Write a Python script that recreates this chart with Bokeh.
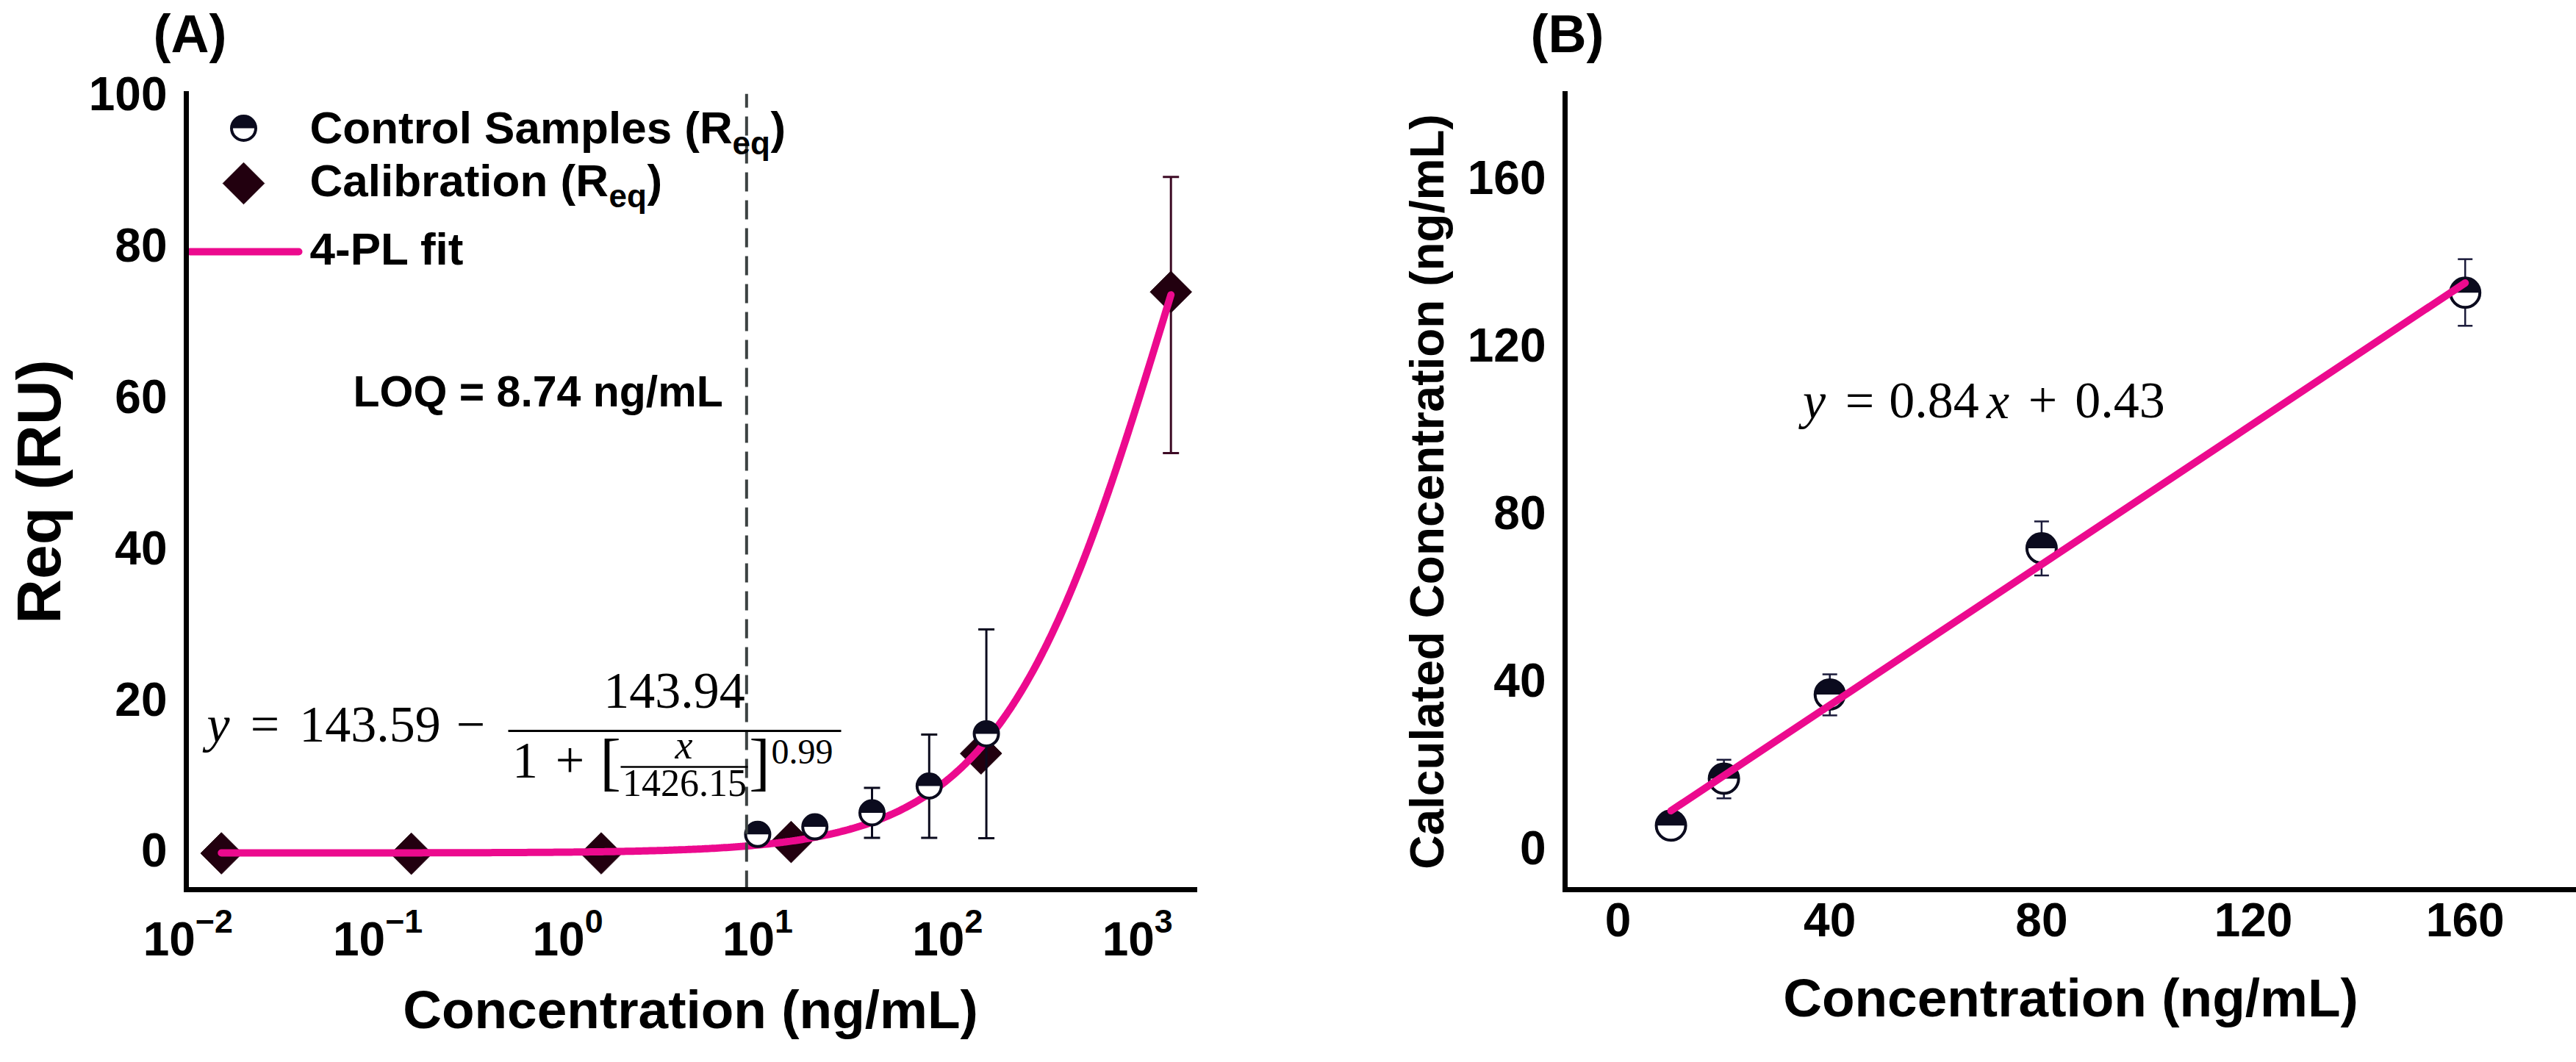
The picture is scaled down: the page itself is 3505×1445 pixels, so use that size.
import numpy as np
from bokeh.plotting import figure
from bokeh.layouts import row, column
from bokeh.models import Range1d, FixedTicker, Label
from bokeh.embed import file_html
from bokeh.resources import INLINE

# ---------------- data ----------------
# (A) calibration standards and control samples, equilibrium response (RU)
calib_conc = [0.015, 0.15, 1.5, 15, 150, 1500]
calib_req = [-0.4, -0.45, -0.4, 1.1, 12.8, 73.8]
calib_lo = [None, None, None, None, None, 52.5]
calib_hi = [None, None, None, None, None, 89.0]

ctrl_conc = [10, 20, 40, 80, 160]
ctrl_req = [2.1, 3.1, 4.95, 8.5, 15.4]
ctrl_lo = [1.7, 2.6, 1.65, 1.65, 1.6]
ctrl_hi = [2.5, 3.6, 8.25, 15.3, 29.2]

# 4-PL fit: y = top - span / (1 + (x / ec50) ** hill)
fit_top, fit_span, fit_ec50, fit_hill = 143.59, 143.94, 1426.15, 0.99
loq = 8.74

# (B) back-calculated concentration of the control samples
nominal_conc = [10, 20, 40, 80, 160]
calc_conc = [5.3, 16.5, 36.6, 71.5, 132.5]
calc_lo = [4.1, 11.8, 31.6, 65.0, 124.6]
calc_hi = [6.5, 21.0, 41.4, 77.9, 140.5]
lin_slope, lin_icpt = 0.84, 0.43

x_ticks_a = [0.01, 0.1, 1, 10, 100, 1000]
y_ticks_a = [0, 20, 40, 60, 80, 100]
ticks_b = [0, 40, 80, 120, 160]
panel_tags = ["(A)", "(B)"]

# ---------------- styling ----------------
PINK = "#EC0A8E"
NAVY = "#0b0b1e"
MAROON = "#22000f"
MAROON_BAR = "#3d0a24"
SANS = "Liberation Sans"
SERIF = "Liberation Serif"

W, H = 3505, 1445
HEAD = 90                                          # strip above the panels for the tags
A_W, B_W = 1780, 1725
A_L, A_R, A_T, A_B = 253, 1625, 127, 1210          # frame edges, panel A (page px)
B_L, B_R, B_T, B_B = 2129, 3505, 126, 1210         # frame edges, panel B (page px)
AX0, AX1 = 0.0098, 2000
AY0, AY1 = -5.2, 100
BX0, BX1 = -10, 181
BY0, BY1 = -10, 180


def ax(sx):
    l0, l1 = np.log10(AX0), np.log10(AX1)
    return 10 ** (l0 + (sx - A_L) / (A_R - A_L) * (l1 - l0))


def ay(sy):
    return AY1 - (sy - A_T) / (A_B - A_T) * (AY1 - AY0)


def bx(sx):
    return BX0 + (sx - B_L) / (B_R - B_L) * (BX1 - BX0)


def by(sy):
    return BY1 - (sy - B_T) / (B_B - B_T) * (BY1 - BY0)


def put(p, fx, fy, sx, sy, text, size, font=SANS, style="bold", align="left"):
    # sy is the wanted baseline; labels sit a little low, so lift them
    p.add_layout(Label(x=fx(sx), y=fy(sy - 0.4 * size), text=text, text_font=font,
                       text_font_size=f"{size}px", text_font_style=style,
                       text_align=align, text_baseline="alphabetic", text_color="black"))


def style_axes(p):
    p.outline_line_color = None
    p.xgrid.visible = False
    p.ygrid.visible = False
    p.background_fill_color = "white"
    for a in p.axis:
        a.axis_line_width = 7
        a.axis_line_color = "black"
        a.axis_line_cap = "square"
        a.major_tick_line_color = None
        a.minor_tick_line_color = None
        a.major_tick_out = 0
        a.major_tick_in = 0
        a.minor_tick_out = 0
        a.major_label_text_font = SANS
        a.major_label_text_font_style = "bold"
        a.major_label_text_font_size = "64px"
        a.major_label_text_color = "black"
        a.axis_label_text_font = SANS
        a.axis_label_text_font_style = "bold"
        a.axis_label_text_font_size = "73px"
        a.axis_label_text_color = "black"


def half_markers(p, xs, ys, size, dark, lw=4):
    p.scatter(xs, ys, size=size, marker="circle", fill_color="white", line_color=None)
    p.wedge(xs, ys, radius=size / 2, radius_units="screen", start_angle=0, end_angle=np.pi,
            fill_color=dark, line_color=None)
    p.scatter(xs, ys, size=size, marker="circle", fill_color=None, line_color=dark, line_width=lw)


def error_bars(p, xs, lows, highs, color, lw, cap):
    pts = [(x, lo, hi) for x, lo, hi in zip(xs, lows, highs) if lo is not None]
    x = [q[0] for q in pts]
    lo = [q[1] for q in pts]
    hi = [q[2] for q in pts]
    p.segment(x, lo, x, hi, line_color=color, line_width=lw)
    p.scatter(x + x, lo + hi, marker="dash", size=cap, line_color=color, line_width=lw)


# ---------------- header strip with panel tags ----------------
head = figure(width=W, height=HEAD, x_range=Range1d(0, W), y_range=Range1d(HEAD, 0),
              output_backend="svg", toolbar_location=None,
              x_axis_location=None, y_axis_location=None,
              min_border_left=0, min_border_right=0, min_border_top=0, min_border_bottom=0)
head.outline_line_color = None
head.xgrid.visible = False
head.ygrid.visible = False
TAG_SIZE = 72
for tag, cx in zip(panel_tags, [258, 2132]):
    head.add_layout(Label(x=cx, y=HEAD / 2, text=tag, text_font=SANS,
                          text_font_size=f"{TAG_SIZE}px", text_font_style="bold",
                          text_align="center", text_baseline="middle", text_color="black"))

# ---------------- panel A ----------------
pA = figure(width=A_W, height=H - HEAD, x_axis_type="log",
            x_range=Range1d(AX0, AX1), y_range=Range1d(AY0, AY1),
            output_backend="svg", toolbar_location=None,
            min_border_left=A_L, min_border_right=A_W - A_R,
            min_border_top=A_T - HEAD, min_border_bottom=H - A_B)
style_axes(pA)
pA.xaxis.ticker = FixedTicker(ticks=x_ticks_a)
pA.yaxis.ticker = FixedTicker(ticks=y_ticks_a)
pA.xaxis.axis_label = "Concentration (ng/mL)"
pA.yaxis.axis_label = "Req (RU)"
pA.yaxis.axis_label_text_font_size = "84px"
pA.xaxis.major_label_standoff = 24
pA.yaxis.major_label_standoff = 26
pA.xaxis.axis_label_standoff = 30
pA.yaxis.axis_label_standoff = 18

error_bars(pA, calib_conc, calib_lo, calib_hi, MAROON_BAR, 3, 22)
pA.scatter(calib_conc, calib_req, marker="square", angle=np.pi / 4, size=40,
           fill_color=MAROON, line_color=MAROON)

xs_fit = np.logspace(np.log10(calib_conc[0]), np.log10(calib_conc[-1]), 400)
ys_fit = fit_top - fit_span / (1 + (xs_fit / fit_ec50) ** fit_hill)
pA.line(xs_fit, ys_fit, line_color=PINK, line_width=10, line_cap="round")

error_bars(pA, ctrl_conc, ctrl_lo, ctrl_hi, NAVY, 3, 22)
half_markers(pA, ctrl_conc, ctrl_req, 33, NAVY)

# limit of quantification
pA.segment([loq], [AY0], [loq], [AY1], line_color="#3c4242", line_width=4, line_dash="26 12")
put(pA, ax, ay, 480, 556, f"LOQ = {loq} ng/mL", 59)

# legend
half_markers(pA, [ax(331)], [ay(174)], 33, NAVY)
pA.scatter([ax(331)], [ay(249)], marker="square", angle=np.pi / 4, size=40,
           fill_color=MAROON, line_color=MAROON)
pA.line([ax(258), ax(406)], [ay(342), ay(342)], line_color=PINK, line_width=10, line_cap="round")
put(pA, ax, ay, 421, 198, "Control Samples (R", 62)
put(pA, ax, ay, 996, 212, "eq", 44)
put(pA, ax, ay, 1048, 198, ")", 62)
put(pA, ax, ay, 421, 270, "Calibration (R", 62)
put(pA, ax, ay, 828, 284, "eq", 44)
put(pA, ax, ay, 880, 270, ")", 62)
put(pA, ax, ay, 421, 363, "4-PL fit", 62)

# fitted equation
put(pA, ax, ay, 281, 1013, "y", 70, SERIF, "italic")
put(pA, ax, ay, 360, 1013, "=", 70, SERIF, "normal", "center")
put(pA, ax, ay, 503, 1013, f"{fit_top:.2f}", 70, SERIF, "normal", "center")
put(pA, ax, ay, 640, 1013, "\u2212", 70, SERIF, "normal", "center")
put(pA, ax, ay, 917, 967, f"{fit_span:.2f}", 70, SERIF, "normal", "center")
pA.segment([ax(691)], [ay(994)], [ax(1144)], [ay(994)], line_color="black", line_width=3)
put(pA, ax, ay, 714, 1062, "1", 70, SERIF, "normal", "center")
put(pA, ax, ay, 775, 1062, "+", 70, SERIF, "normal", "center")
put(pA, ax, ay, 830, 1070, "[", 86, SERIF, "normal", "center")
put(pA, ax, ay, 930, 1035, "x", 54, SERIF, "italic", "center")
pA.segment([ax(844)], [ay(1043)], [ax(1017)], [ay(1043)], line_color="black", line_width=2.5)
put(pA, ax, ay, 931, 1086, f"{fit_ec50:.2f}", 52, SERIF, "normal", "center")
put(pA, ax, ay, 1033, 1070, "]", 86, SERIF, "normal", "center")
put(pA, ax, ay, 1049, 1042, f"{fit_hill:.2f}", 48, SERIF, "normal")

# ---------------- panel B ----------------
pB = figure(width=B_W, height=H - HEAD, x_range=Range1d(BX0, BX1), y_range=Range1d(BY0, BY1),
            output_backend="svg", toolbar_location=None,
            min_border_left=B_L - A_W, min_border_right=0,
            min_border_top=B_T - HEAD, min_border_bottom=H - B_B)
style_axes(pB)
pB.xaxis.ticker = FixedTicker(ticks=ticks_b)
pB.yaxis.ticker = FixedTicker(ticks=ticks_b)
pB.xaxis.axis_label = "Concentration (ng/mL)"
pB.yaxis.axis_label = "Calculated Concentration (ng/mL)"
pB.yaxis.axis_label_text_font_size = "64px"
pB.xaxis.major_label_standoff = 18
pB.yaxis.major_label_standoff = 26
pB.xaxis.axis_label_standoff = 40
pB.yaxis.axis_label_standoff = 16

error_bars(pB, nominal_conc, calc_lo, calc_hi, "#1a1a3a", 2.5, 20)
half_markers(pB, nominal_conc, calc_conc, 40, NAVY)
lx = [nominal_conc[0], nominal_conc[-1]]
pB.line(lx, [lin_slope * v + lin_icpt for v in lx], line_color=PINK, line_width=10, line_cap="round")

# regression equation
put(pB, bx, by, 2468, 572, "y", 70, SERIF, "italic", "center")
put(pB, bx, by, 2530, 572, "=", 70, SERIF, "normal", "center")
put(pB, bx, by, 2631, 572, f"{lin_slope:.2f}", 70, SERIF, "normal", "center")
put(pB, bx, by, 2718, 572, "x", 70, SERIF, "italic", "center")
put(pB, bx, by, 2779, 572, "+", 70, SERIF, "normal", "center")
put(pB, bx, by, 2884, 572, f"{lin_icpt:.2f}", 70, SERIF, "normal", "center")

layout = column(head, row(pA, pB, spacing=0), spacing=0)
open("out.html", "w").write(file_html(layout, INLINE))
